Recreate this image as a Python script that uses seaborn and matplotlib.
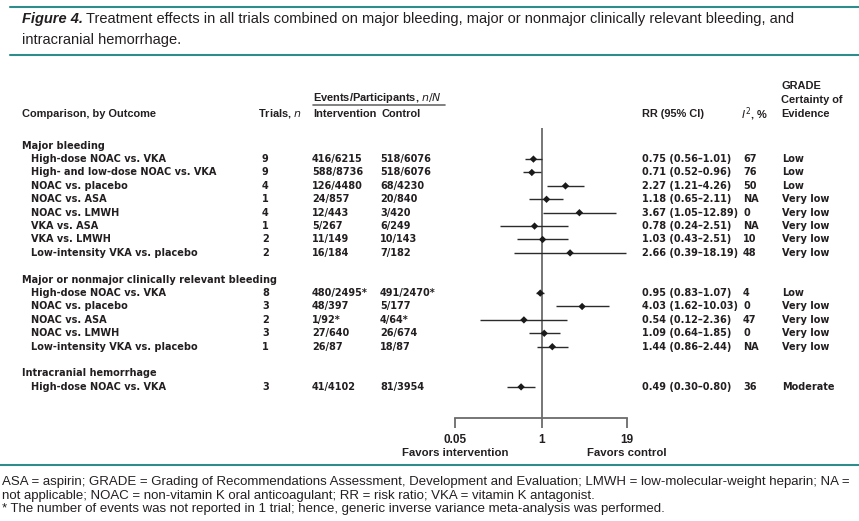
import numpy as np
import pandas as pd
import matplotlib
matplotlib.use("Agg")
import matplotlib.pyplot as plt
import matplotlib.transforms as mtransforms
from matplotlib.lines import Line2D
import seaborn as sns

# ---- data ----
sections = ["Major bleeding",
            "Major or nonmajor clinically relevant bleeding",
            "Intracranial hemorrhage"]
section_of_row = [0, 0, 0, 0, 0, 0, 0, 0, 1, 1, 1, 1, 1, 2]
comparisons = ["High-dose NOAC vs. VKA", "High- and low-dose NOAC vs. VKA",
               "NOAC vs. placebo", "NOAC vs. ASA", "NOAC vs. LMWH",
               "VKA vs. ASA", "VKA vs. LMWH", "Low-intensity VKA vs. placebo",
               "High-dose NOAC vs. VKA", "NOAC vs. placebo", "NOAC vs. ASA",
               "NOAC vs. LMWH", "Low-intensity VKA vs. placebo",
               "High-dose NOAC vs. VKA"]
trials = [9, 9, 4, 1, 4, 1, 2, 2, 8, 3, 2, 3, 1, 3]
intervention = ["416/6215", "588/8736", "126/4480", "24/857", "12/443", "5/267",
                "11/149", "16/184", "480/2495*", "48/397", "1/92*", "27/640",
                "26/87", "41/4102"]
control = ["518/6076", "518/6076", "68/4230", "20/840", "3/420", "6/249",
           "10/143", "7/182", "491/2470*", "5/177", "4/64*", "26/674",
           "18/87", "81/3954"]
rr = [0.75, 0.71, 2.27, 1.18, 3.67, 0.78, 1.03, 2.66, 0.95, 4.03, 0.54, 1.09, 1.44, 0.49]
lo = [0.56, 0.52, 1.21, 0.65, 1.05, 0.24, 0.43, 0.39, 0.83, 1.62, 0.12, 0.64, 0.86, 0.30]
hi = [1.01, 0.96, 4.26, 2.11, 12.89, 2.51, 2.51, 18.19, 1.07, 10.03, 2.36, 1.85, 2.44, 0.80]
i2 = ["67", "76", "50", "NA", "0", "NA", "10", "48", "4", "0", "47", "0", "NA", "36"]
grade = ["Low", "Low", "Low", "Very low", "Very low", "Very low", "Very low",
         "Very low", "Low", "Very low", "Very low", "Very low", "Very low", "Moderate"]
x_ticks = [0.05, 1, 19]
x_tick_labels = ["0.05", "1", "19"]

# row layout: header, rows, blank line between sections
pos = []
header_pos = []
r = 0
prev = None
for s in section_of_row:
    if s != prev:
        if prev is not None:
            r += 1
        header_pos.append(r)
        r += 1
        prev = s
    pos.append(r)
    r += 1

df = pd.DataFrame({"comparison": comparisons, "trials": trials,
                   "intervention": intervention, "control": control,
                   "rr": rr, "lo": lo, "hi": hi, "i2": i2, "grade": grade,
                   "row": pos})

W, H = 859, 521
TXT = "#231f20"
TEAL = "#2f8c8c"
GRAY = "#6b6b6b"

sns.set_style("white")
plt.rcParams["font.family"] = ["DejaVu Sans"]
narrow = ["Liberation Sans Narrow", "Liberation Sans", "DejaVu Sans"]
body = ["DejaVu Sans"]

fig = plt.figure(figsize=(W / 100, H / 100), dpi=100)
fig.patch.set_facecolor("white")

# forest axes: x log 0.05..19 -> px 455..627 ; rows spaced 13.4 px
y0, dy = 145.7, 13.4
ax_top, ax_bot = 128, 418
ax = fig.add_axes([455 / W, 1 - ax_bot / H, (627 - 455) / W, (ax_bot - ax_top) / H])
ax.set_xscale("log")
ax.set_xlim(0.05, 19)
ax.set_ylim((ax_bot - y0) / dy, (ax_top - y0) / dy)
ax.set_facecolor("none")

ax.axvline(1, color=GRAY, lw=1.3, zorder=1)
ax.hlines(df["row"], df["lo"], df["hi"], color="#2b2b2b", lw=1.0, zorder=2)
sns.scatterplot(data=df, x="rr", y="row", marker="D", s=14, color="#1a1a1a",
                edgecolor="none", ax=ax, zorder=3, legend=False)

for sp in ["left", "top", "right"]:
    ax.spines[sp].set_visible(False)
ax.spines["bottom"].set_color(GRAY)
ax.spines["bottom"].set_linewidth(1.3)
ax.set_yticks([])
ax.set_xticks(x_ticks)
ax.set_xticklabels(x_tick_labels)
ax.xaxis.set_minor_locator(matplotlib.ticker.NullLocator())
ax.tick_params(axis="x", bottom=True, direction="out", length=7.5, width=1.3,
               color=GRAY, pad=4, labelsize=8.5, labelcolor=TXT)
for lab in ax.get_xticklabels():
    lab.set_fontfamily(narrow)
    lab.set_fontweight("bold")
ax.set_xlabel("")
ax.set_ylabel("")

# "favors" labels
fig.text(455 / W, 1 - 453 / H, "Favors intervention", ha="center", va="center",
         fontsize=8.2, fontweight="bold", family=narrow, color=TXT)
fig.text(627 / W, 1 - 453 / H, "Favors control", ha="center", va="center",
         fontsize=8.2, fontweight="bold", family=narrow, color=TXT)

# table text
trans = mtransforms.blended_transform_factory(fig.transFigure, ax.transData)
kw = dict(transform=trans, va="center", fontsize=7.0, fontweight="bold",
          family=body, color=TXT)
for s, hp in zip(sections, header_pos):
    ax.text(22 / W, hp, s, clip_on=False, **kw)
for _, row in df.iterrows():
    y = row["row"]
    ax.text(31 / W, y, row["comparison"], clip_on=False, **kw)
    ax.text(262 / W, y, str(row["trials"]), clip_on=False, **kw)
    ax.text(312 / W, y, row["intervention"], clip_on=False, **kw)
    ax.text(380 / W, y, row["control"], clip_on=False, **kw)
    ax.text(642 / W, y, f"{row['rr']:.2f} ({row['lo']:.2f}\u2013{row['hi']:.2f})",
            clip_on=False, **kw)
    ax.text(743 / W, y, row["i2"], clip_on=False, **kw)
    ax.text(782 / W, y, row["grade"], clip_on=False, **kw)

# column headers
hk = dict(va="center", fontsize=7.9, fontweight="bold", family=narrow, color=TXT)
fig.text(22 / W, 1 - 114 / H, "Comparison, by Outcome", **hk)
fig.text(302 / W, 1 - 114 / H, r"Trials, $\it{n}$", ha="right", **hk)
fig.text(313 / W, 1 - 98 / H, r"Events/Participants, $\it{n/N}$", **hk)
fig.add_artist(Line2D([313 / W, 445 / W], [1 - 105 / H, 1 - 105 / H],
                      color=GRAY, lw=1.2, transform=fig.transFigure))
fig.text(313 / W, 1 - 114 / H, "Intervention", **hk)
fig.text(381 / W, 1 - 114 / H, "Control", **hk)
fig.text(642 / W, 1 - 114 / H, "RR (95% CI)", **hk)
fig.text(768 / W, 1 - 114 / H, r"$\it{I}^2$, %", ha="right", **hk)
fig.text(781 / W, 1 - 86 / H, "GRADE", **hk)
fig.text(781 / W, 1 - 100 / H, "Certainty of", **hk)
fig.text(781 / W, 1 - 114 / H, "Evidence", **hk)

# title
fig.add_artist(Line2D([10 / W, 1], [1 - 7 / H, 1 - 7 / H], color=TEAL, lw=1.5,
                      transform=fig.transFigure))
fig.add_artist(Line2D([10 / W, 1], [1 - 55 / H, 1 - 55 / H], color=TEAL, lw=1.5,
                      transform=fig.transFigure))
tk = dict(va="center", fontsize=10.5, family=narrow, color=TXT)
t1 = fig.text(22 / W, 1 - 19 / H, "Figure 4.", fontweight="bold", style="italic", **tk)
rend = fig.canvas.get_renderer()
bb = t1.get_window_extent(renderer=rend)
fig.text((bb.x1 + 3) / W, 1 - 19 / H,
         "Treatment effects in all trials combined on major bleeding, major or "
         "nonmajor clinically relevant bleeding, and", **tk)
fig.text(22 / W, 1 - 40 / H, "intracranial hemorrhage.", **tk)

# footnote
fig.add_artist(Line2D([0, 1], [1 - 465 / H, 1 - 465 / H], color=TEAL, lw=1.5,
                      transform=fig.transFigure))
fk = dict(va="center", fontsize=9.5, family=narrow, color=TXT)
fig.text(2 / W, 1 - 482 / H,
         "ASA = aspirin; GRADE = Grading of Recommendations Assessment, Development "
         "and Evaluation; LMWH = low-molecular-weight heparin; NA =", **fk)
fig.text(2 / W, 1 - 495.5 / H,
         "not applicable; NOAC = non-vitamin K oral anticoagulant; RR = risk ratio; "
         "VKA = vitamin K antagonist.", **fk)
fig.text(2 / W, 1 - 509 / H,
         "* The number of events was not reported in 1 trial; hence, generic inverse "
         "variance meta-analysis was performed.", **fk)

fig.savefig("out.png", dpi=100, facecolor="white")
